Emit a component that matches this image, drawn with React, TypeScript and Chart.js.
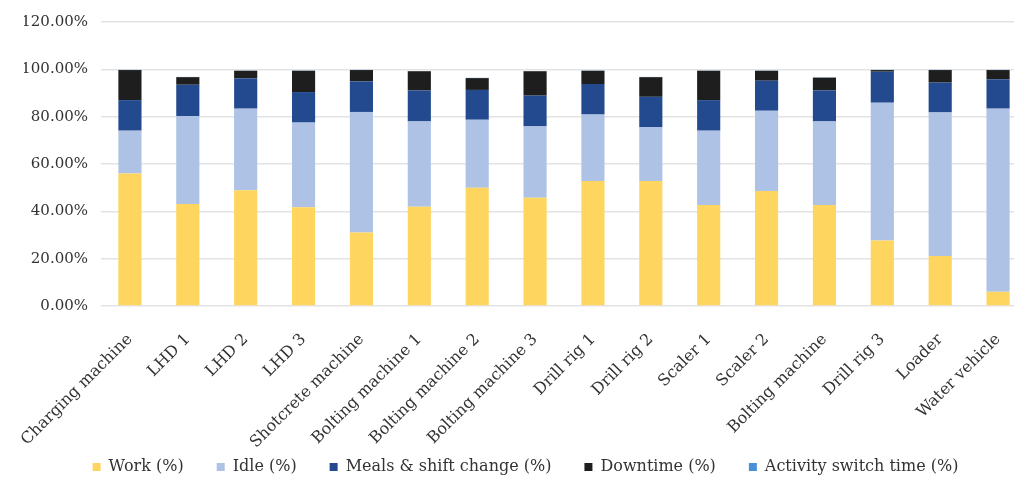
import React, { useEffect, useRef } from "react";
import { Chart, registerables } from "chart.js";

Chart.register(...registerables);

const categories = [
  "Charging machine", "LHD 1", "LHD 2", "LHD 3", "Shotcrete machine",
  "Bolting machine 1", "Bolting machine 2", "Bolting machine 3", "Drill rig 1",
  "Drill rig 2", "Scaler 1", "Scaler 2", "Bolting machine", "Drill rig 3",
  "Loader", "Water vehicle",
];

const work = [56.0, 43.1, 48.9, 41.7, 31.1, 42.0, 50.0, 45.8, 52.8, 52.8, 42.7, 48.6, 42.7, 27.7, 21.1, 6.0];
const idle = [18.1, 37.2, 34.5, 35.8, 50.9, 36.0, 28.7, 30.1, 28.1, 22.8, 31.4, 33.9, 35.3, 58.2, 60.7, 77.4];
const meals = [12.9, 13.2, 12.8, 12.9, 12.9, 13.1, 12.6, 13.0, 12.9, 12.8, 12.9, 12.7, 13.1, 13.1, 12.6, 12.4];
const downtime = [12.7, 3.2, 3.2, 9.0, 4.8, 8.1, 5.0, 10.3, 5.6, 8.3, 12.4, 4.2, 5.4, 0.7, 5.3, 3.9];
const activitySwitch = [0.1, 0.1, 0.1, 0.1, 0.1, 0.1, 0.1, 0.1, 0.1, 0.1, 0.1, 0.1, 0.1, 0.1, 0.1, 0.1];

const yTicks = [0, 20, 40, 60, 80, 100, 120];

const FONT = "'DejaVu Serif', serif";

const legendShift = {
  id: "legendShift",
  afterLayout(chart: any) {
    const l = chart.legend;
    if (l) {
      l.top -= 42;
      l.bottom -= 42;
    }
  },
};

export default function App() {
  const ref = useRef<HTMLCanvasElement | null>(null);

  useEffect(() => {
    if (!ref.current) return;
    const chart = new Chart(ref.current, {
      type: "bar",
      data: {
        labels: categories,
        datasets: [
          { label: "Work (%)", data: work, backgroundColor: "#FED55E" },
          { label: "Idle (%)", data: idle, backgroundColor: "#AEC2E5" },
          { label: "Meals & shift change (%)", data: meals, backgroundColor: "#234A8F" },
          { label: "Downtime (%)", data: downtime, backgroundColor: "#1E1E1E" },
          { label: "Activity switch time (%)", data: activitySwitch, backgroundColor: "#4A8FD8" },
        ],
      },
      options: {
        animation: false,
        responsive: false,
        devicePixelRatio: 1,
        layout: { padding: { left: 24, right: 24, top: 12, bottom: 0 } },
        datasets: { bar: { categoryPercentage: 1, barPercentage: 0.4 } },
        plugins: {
          legend: {
            position: "bottom",
            labels: {
              boxWidth: 8,
              boxHeight: 8,
              padding: 33,
              color: "#333333",
              font: { family: FONT, size: 16 },
            },
          },
          tooltip: { enabled: false },
        },
        scales: {
          x: {
            stacked: true,
            grid: { display: false },
            border: { display: false },
            ticks: {
              minRotation: 45,
              maxRotation: 45,
              color: "#333333",
              padding: 16,
              font: { family: FONT, size: 16 },
            },
          },
          y: {
            stacked: true,
            min: 0,
            max: 120,
            afterBuildTicks: (axis: any) => {
              axis.ticks = yTicks.map((v) => ({ value: v }));
            },
            afterFit: (scale: any) => {
              scale.width = 77;
            },
            grid: { color: "#e3e3e3", lineWidth: 1.5, drawTicks: false },
            border: { display: false },
            ticks: {
              padding: 13,
              color: "#333333",
              font: { family: FONT, size: 15 },
              callback: (v: any) => Number(v).toFixed(2) + "%",
            },
          },
        },
      },
      plugins: [legendShift],
    });
    return () => chart.destroy();
  }, []);

  return (
    <div style={{ position: "fixed", left: 0, top: 0, width: 1014, height: 477, overflow: "hidden", background: "#fff" }}>
      <canvas ref={ref} width={1051} height={527} style={{ display: "block" }} />
    </div>
  );
}
